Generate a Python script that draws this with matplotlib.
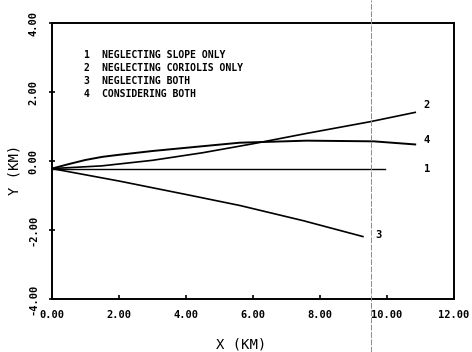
import matplotlib
matplotlib.use("Agg")
import matplotlib.pyplot as plt
from matplotlib.lines import Line2D

# --- Data (X in km, Y in km) ---
x_slope = [0.0, 9.94]
y_slope = [-0.22, -0.22]

x_coriolis = [0.0, 1.5, 3.0, 4.5, 6.0, 7.6, 9.5, 10.84]
y_coriolis = [-0.22, -0.14, 0.02, 0.24, 0.50, 0.80, 1.14, 1.41]

x_both_neg = [0.0, 2.0, 4.0, 5.61, 7.5, 9.28]
y_both_neg = [-0.22, -0.58, -0.97, -1.29, -1.73, -2.19]

x_both = [0.0, 0.5, 1.0, 1.5, 2.0, 3.0, 4.4, 5.6, 7.6, 9.6, 10.84]
y_both = [-0.22, -0.09, 0.03, 0.12, 0.18, 0.29, 0.42, 0.53, 0.59, 0.57, 0.48]

legend_lines = [
    ("1", "NEGLECTING SLOPE ONLY"),
    ("2", "NEGLECTING CORIOLIS ONLY"),
    ("3", "NEGLECTING BOTH"),
    ("4", "CONSIDERING BOTH"),
]

x_ticks = [0, 2, 4, 6, 8, 10, 12]
y_ticks = [-4, -2, 0, 2, 4]

FONT = "DejaVu Sans Mono"

fig = plt.figure(figsize=(4.72, 3.52), dpi=100)
ax = fig.add_axes([0.110, 0.1506, 0.852, 0.784])

# --- Curves with end labels ---
curves = [
    (x_slope, y_slope, "1", (28, 0), 1.0),
    (x_coriolis, y_coriolis, "2", (6, 5), 1.2),
    (x_both_neg, y_both_neg, "3", (9, 1), 1.2),
    (x_both, y_both, "4", (6, 3), 1.4),
]
for xs, ys, tag, off, lw in curves:
    ax.plot(xs, ys, color="black", lw=lw)
    ax.annotate(tag, xy=(xs[-1], ys[-1]), xytext=off, textcoords="offset points",
                ha="left", va="center", fontsize=7.5, fontweight="bold", family=FONT)

# --- Legend block written as text ---
for i, (num, desc) in enumerate(legend_lines):
    yy = 0.885 - i * 0.047
    ax.text(0.085, yy, num, transform=ax.transAxes, ha="center", va="center",
            fontsize=7, fontweight="bold", family=FONT)
    ax.text(0.125, yy, desc, transform=ax.transAxes, ha="left", va="center",
            fontsize=7, fontweight="bold", family=FONT)

# --- Axes formatting ---
ax.set_xlim(0, 12)
ax.set_ylim(-4, 4)
ax.set_xticks(x_ticks)
ax.set_yticks(y_ticks)
ax.set_xticklabels([f"{t:.2f}" for t in x_ticks], family=FONT, fontweight="bold", fontsize=7.5)
ax.set_yticklabels([f"{t:.2f}" for t in y_ticks], family=FONT, fontweight="bold", fontsize=7.5)
for lbl in ax.get_yticklabels():
    lbl.set_rotation(90)
    lbl.set_va("center")
ax.tick_params(axis="x", direction="in", length=3, width=1.2, pad=8)
ax.tick_params(axis="y", direction="inout", length=4, width=1.2, pad=8)
for sp in ax.spines.values():
    sp.set_linewidth(1.4)

ax.text(0.47, -0.165, "X (KM)", transform=ax.transAxes, ha="center", va="center",
        fontsize=10, family=FONT)
ax.text(-0.092, 0.467, "Y (KM)", transform=ax.transAxes, rotation=90,
        ha="center", va="center", fontsize=10, family=FONT)

# faint fold line from the scanned page
fig.add_artist(Line2D([371 / 472, 371 / 472], [0, 1], transform=fig.transFigure,
                      color="0.55", lw=0.7, ls=(0, (6, 1.5))))

fig.savefig("out.png", dpi=100)
